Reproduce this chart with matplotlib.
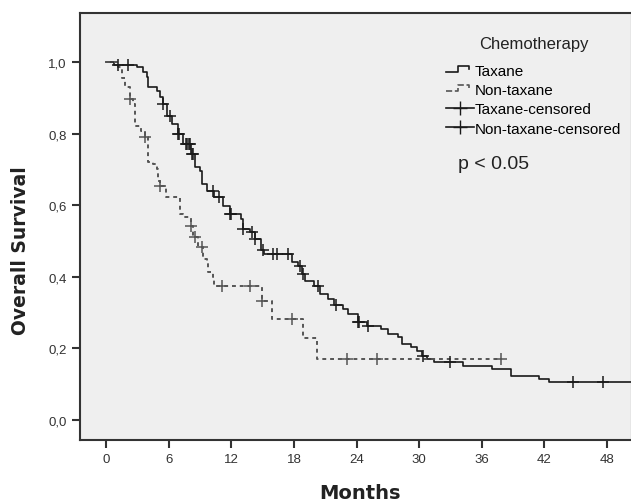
import numpy as np
import matplotlib
matplotlib.use("Agg")
import matplotlib.pyplot as plt
from matplotlib.lines import Line2D
from matplotlib.legend_handler import HandlerBase

# Kaplan-Meier steps (month of drop, survival after drop)
taxane_t = [0, 0.8, 3.0, 3.5, 3.9, 4.0, 4.9, 5.2, 5.5, 5.85, 6.3, 6.9, 7.4, 8.1, 8.5, 9.0,
            9.2, 9.7, 10.3, 11.2, 11.9, 12.9, 13.1, 13.8, 14.3, 14.8, 15.1, 17.8, 18.4,
            18.8, 19.1, 19.9, 20.5, 21.3, 21.8, 22.7, 23.2, 24.1, 25.0, 26.3, 27.0, 28.0,
            28.4, 29.2, 29.8, 30.3, 30.8, 31.4, 34.2, 37.0, 38.8, 41.5, 42.4, 50.5]
taxane_s = [1.0, 0.993, 0.986, 0.972, 0.958, 0.930, 0.919, 0.902, 0.883, 0.849, 0.827,
            0.799, 0.771, 0.743, 0.707, 0.696, 0.659, 0.640, 0.623, 0.598, 0.575, 0.561,
            0.534, 0.525, 0.506, 0.475, 0.464, 0.441, 0.430, 0.408, 0.388, 0.374, 0.352,
            0.338, 0.320, 0.310, 0.296, 0.274, 0.263, 0.254, 0.240, 0.232, 0.212, 0.204,
            0.193, 0.179, 0.170, 0.162, 0.151, 0.142, 0.123, 0.115, 0.106, 0.106]
taxane_cens = [1.1, 2.1, 5.5, 6.1, 6.9, 7.0, 7.7, 7.8, 7.9, 8.0, 8.2, 8.3, 10.2, 10.8,
               11.9, 12.0, 13.1, 14.0, 14.3, 15.0, 16.0, 16.4, 17.4, 18.6, 18.9, 20.3,
               22.0, 24.1, 24.2, 25.1, 30.4, 33.0, 44.7, 47.6]

nontax_t = [0, 1.1, 1.5, 1.8, 2.3, 2.6, 2.8, 3.3, 3.7, 4.0, 4.5, 4.9, 5.0, 5.2, 5.7, 7.1,
            7.4, 8.1, 8.3, 8.8, 9.3, 9.7, 9.8, 10.2, 10.3, 14.9, 15.9, 18.9, 20.2, 37.8]
nontax_s = [1.0, 0.986, 0.955, 0.930, 0.897, 0.883, 0.820, 0.807, 0.790, 0.720, 0.715,
            0.700, 0.668, 0.654, 0.623, 0.575, 0.567, 0.542, 0.511, 0.483, 0.450, 0.436,
            0.413, 0.400, 0.374, 0.333, 0.282, 0.228, 0.170, 0.170]
nontax_cens = [2.3, 3.7, 5.2, 8.1, 8.5, 9.2, 11.1, 13.8, 14.9, 17.8, 23.1, 26.0, 37.8]

xticks = [0, 6, 12, 18, 24, 30, 36, 42, 48]
yticks = [0.0, 0.2, 0.4, 0.6, 0.8, 1.0]
legend_labels = ["Taxane", "Non-taxane", "Taxane-censored", "Non-taxane-censored"]


def surv_at(times, surv, t):
    idx = np.searchsorted(times, t, side="right") - 1
    return np.array(surv)[idx]


class StepHandler(HandlerBase):
    # little step-shaped line like the SPSS legend
    def create_artists(self, legend, orig_handle, xdescent, ydescent, width, height,
                       fontsize, trans):
        xs = np.array([0.0, 0.45, 0.45, 0.85, 0.85]) * width - xdescent
        ys = np.array([0.25, 0.25, 0.8, 0.8, 0.55]) * height - ydescent
        ln = Line2D(xs, ys, color=orig_handle.get_color(),
                    linestyle=orig_handle.get_linestyle(),
                    linewidth=orig_handle.get_linewidth())
        ln.set_transform(trans)
        return [ln]


plt.rcParams['font.family'] = ['Liberation Sans', 'DejaVu Sans']

fig = plt.figure(figsize=(6.31, 5.02), dpi=100)
ax = fig.add_axes([80 / 631, 61 / 502, 552 / 631, 427 / 502])
ax.set_facecolor("#efefef")

solid_col = "#1a1a1a"
dash_col = "#555555"

ax.step(taxane_t, taxane_s, where="post", color=solid_col, lw=1.2)
ax.step(nontax_t, nontax_s, where="post", color=dash_col, lw=1.4,
        linestyle=(0, (2, 2)))

ax.plot(taxane_cens, surv_at(taxane_t, taxane_s, taxane_cens), "+",
        color=solid_col, ms=8, mew=1.1)
ax.plot(nontax_cens, surv_at(nontax_t, nontax_s, nontax_cens), "+",
        color=dash_col, ms=8, mew=1.1)

ax.set_xlim(-2.5, 50.4)
ax.set_ylim(-0.056, 1.137)
ax.set_xticks(xticks)
ax.set_yticks(yticks)
ax.set_yticklabels([f"{v:.1f}".replace(".", ",") for v in yticks])
ax.tick_params(direction="out", length=6, width=1.5, color="#333333",
               labelsize=9.5, labelcolor="#333333")
for sp in ax.spines.values():
    sp.set_linewidth(1.5)
    sp.set_color("#333333")

ax.set_xlabel("Months", fontsize=14, fontweight="bold", family="DejaVu Sans",
              color="#222222")
ax.set_ylabel("Overall Survival", fontsize=13.5, fontweight="bold", family="DejaVu Sans",
              color="#222222")
ax.xaxis.set_label_coords(0.508, -0.122)
ax.yaxis.set_label_coords(-0.108, 0.447)
ax.xaxis.label.set_va("center")
ax.yaxis.label.set_va("center")

h1 = Line2D([], [], color=solid_col, lw=1.2)
h2 = Line2D([], [], color=dash_col, lw=1.2, linestyle=(0, (2, 2)))
h3 = Line2D([], [], color=solid_col, lw=1.2, marker="+", ms=10)
h4 = Line2D([], [], color=solid_col, lw=1.2, marker="+", ms=10)
leg = ax.legend([h1, h2, h3, h4], legend_labels,
                handler_map={h1: StepHandler(), h2: StepHandler()},
                title="Chemotherapy", frameon=False, fontsize=11,
                title_fontsize=12, loc="upper left",
                bbox_to_anchor=(446 / 631, 1 - 37 / 502),
                bbox_transform=fig.transFigure,
                handlelength=1.8, handletextpad=0.1, labelspacing=0.35,
                borderaxespad=0, borderpad=0)
leg.get_title().set_color("#222222")
leg._legend_box.sep = 9

fig.text(458 / 631, 1 - 165 / 502, "p < 0.05", fontsize=14, color="#222222",
         va="center", ha="left")

fig.savefig("out.png", dpi=100)
